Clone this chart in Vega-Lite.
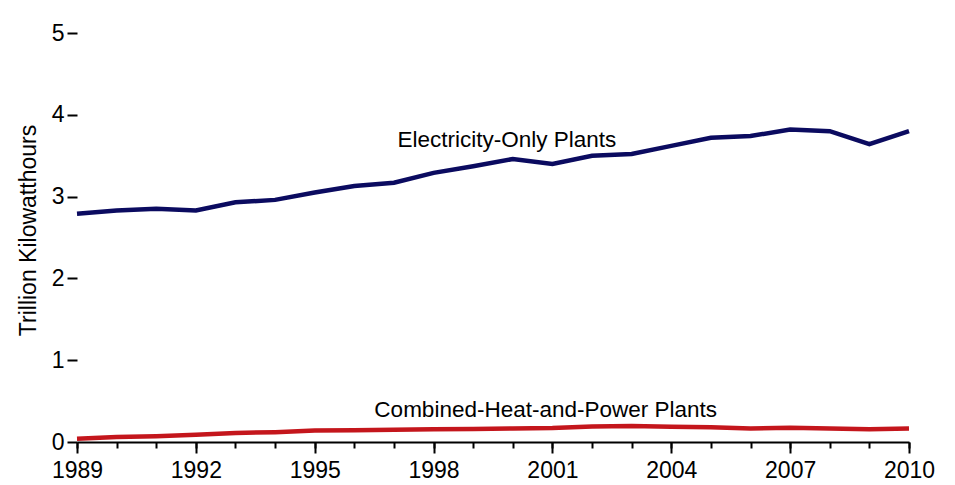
{
  "$schema": "https://vega.github.io/schema/vega-lite/v6.json",
  "autosize": "none",
  "width": 832,
  "height": 409,
  "padding": {"left": 77, "top": 33, "right": 46, "bottom": 43},
  "background": "white",
  "config": {"view": {"stroke": null}, "font": "Liberation Sans"},
  "datasets": {
    "gen": [
      {"year": 1989, "series": "Electricity-Only Plants", "value": 2.79},
      {"year": 1990, "series": "Electricity-Only Plants", "value": 2.83},
      {"year": 1991, "series": "Electricity-Only Plants", "value": 2.85},
      {"year": 1992, "series": "Electricity-Only Plants", "value": 2.83},
      {"year": 1993, "series": "Electricity-Only Plants", "value": 2.93},
      {"year": 1994, "series": "Electricity-Only Plants", "value": 2.96},
      {"year": 1995, "series": "Electricity-Only Plants", "value": 3.05},
      {"year": 1996, "series": "Electricity-Only Plants", "value": 3.13},
      {"year": 1997, "series": "Electricity-Only Plants", "value": 3.17},
      {"year": 1998, "series": "Electricity-Only Plants", "value": 3.29},
      {"year": 1999, "series": "Electricity-Only Plants", "value": 3.37},
      {"year": 2000, "series": "Electricity-Only Plants", "value": 3.46},
      {"year": 2001, "series": "Electricity-Only Plants", "value": 3.40},
      {"year": 2002, "series": "Electricity-Only Plants", "value": 3.50},
      {"year": 2003, "series": "Electricity-Only Plants", "value": 3.52},
      {"year": 2004, "series": "Electricity-Only Plants", "value": 3.62},
      {"year": 2005, "series": "Electricity-Only Plants", "value": 3.72},
      {"year": 2006, "series": "Electricity-Only Plants", "value": 3.74},
      {"year": 2007, "series": "Electricity-Only Plants", "value": 3.82},
      {"year": 2008, "series": "Electricity-Only Plants", "value": 3.80},
      {"year": 2009, "series": "Electricity-Only Plants", "value": 3.64},
      {"year": 2010, "series": "Electricity-Only Plants", "value": 3.80},
      {"year": 1989, "series": "Combined-Heat-and-Power Plants", "value": 0.04},
      {"year": 1990, "series": "Combined-Heat-and-Power Plants", "value": 0.06},
      {"year": 1991, "series": "Combined-Heat-and-Power Plants", "value": 0.07},
      {"year": 1992, "series": "Combined-Heat-and-Power Plants", "value": 0.09},
      {"year": 1993, "series": "Combined-Heat-and-Power Plants", "value": 0.11},
      {"year": 1994, "series": "Combined-Heat-and-Power Plants", "value": 0.12},
      {"year": 1995, "series": "Combined-Heat-and-Power Plants", "value": 0.14},
      {"year": 1996, "series": "Combined-Heat-and-Power Plants", "value": 0.145},
      {"year": 1997, "series": "Combined-Heat-and-Power Plants", "value": 0.15},
      {"year": 1998, "series": "Combined-Heat-and-Power Plants", "value": 0.155},
      {"year": 1999, "series": "Combined-Heat-and-Power Plants", "value": 0.16},
      {"year": 2000, "series": "Combined-Heat-and-Power Plants", "value": 0.165},
      {"year": 2001, "series": "Combined-Heat-and-Power Plants", "value": 0.17},
      {"year": 2002, "series": "Combined-Heat-and-Power Plants", "value": 0.19},
      {"year": 2003, "series": "Combined-Heat-and-Power Plants", "value": 0.195},
      {"year": 2004, "series": "Combined-Heat-and-Power Plants", "value": 0.185},
      {"year": 2005, "series": "Combined-Heat-and-Power Plants", "value": 0.18},
      {"year": 2006, "series": "Combined-Heat-and-Power Plants", "value": 0.165},
      {"year": 2007, "series": "Combined-Heat-and-Power Plants", "value": 0.175},
      {"year": 2008, "series": "Combined-Heat-and-Power Plants", "value": 0.165},
      {"year": 2009, "series": "Combined-Heat-and-Power Plants", "value": 0.155},
      {"year": 2010, "series": "Combined-Heat-and-Power Plants", "value": 0.165}
    ],
    "labels": [
      {"year": 1999.85, "value": 3.61, "label": "Electricity-Only Plants"},
      {"year": 2000.83, "value": 0.31, "label": "Combined-Heat-and-Power Plants"}
    ]
  },
  "resolve": {"axis": {"x": "independent"}},
  "layer": [
    {
      "data": {"name": "gen"},
      "mark": {"type": "line", "strokeWidth": 4.5, "strokeJoin": "miter", "clip": false, "opacity": 0},
      "encoding": {
        "x": {
          "field": "year", "type": "quantitative",
          "scale": {"domain": [1989, 2010], "nice": false, "zero": false},
          "axis": {
            "orient": "bottom",
            "title": null,
            "values": [1989,1990,1991,1992,1993,1994,1995,1996,1997,1998,1999,2000,2001,2002,2003,2004,2005,2006,2007,2008,2009,2010],
            "tickCount": 40,
            "labels": false,
            "grid": false,
            "domain": false,
            "ticks": true, "tickColor": "black", "tickOpacity": 1, "tickWidth": 2, "tickSize": 6
          }
        },
        "y": {
          "field": "value", "type": "quantitative",
          "scale": {"domain": [0, 5], "nice": false},
          "axis": {
            "title": "Trillion Kilowatthours",
            "values": [0,1,2,3,4,5],
            "format": "d",
            "grid": false, "domain": false,
            "ticks": true, "tickColor": "black", "tickWidth": 2, "tickSize": 10,
            "labelFontSize": 23, "labelColor": "black", "labelPadding": 3,
            "labelFont": "Liberation Sans",
            "titleFont": "Liberation Sans", "titleFontSize": 23, "titleFontWeight": "normal",
            "titleColor": "black", "titleAngle": -90, "titleAlign": "center", "titleBaseline": "middle",
            "titleX": -49, "titleY": 197
          }
        },
        "detail": {"field": "series"}
      }
    },
    {
      "data": {"name": "gen"},
      "mark": {"type": "line", "strokeWidth": 4.5, "strokeJoin": "miter", "clip": false},
      "encoding": {
        "x": {
          "field": "year", "type": "quantitative",
          "axis": {
            "orient": "bottom",
            "title": null,
            "values": [1989,1992,1995,1998,2001,2004,2007,2010],
            "tickCount": 40,
            "format": "d",
            "grid": false,
            "domain": true, "domainColor": "black", "domainWidth": 2,
            "ticks": true, "tickColor": "black", "tickOpacity": 1, "tickWidth": 2, "tickSize": 11,
            "labelFontSize": 23, "labelColor": "black", "labelPadding": 6,
            "labelFont": "Liberation Sans", "labelFlush": false, "labelOverlap": false, "labelBound": false
          }
        },
        "y": {"field": "value", "type": "quantitative"},
        "color": {
          "field": "series", "type": "nominal",
          "scale": {"domain": ["Electricity-Only Plants", "Combined-Heat-and-Power Plants"], "range": ["#0b0b60", "#c4161c"]},
          "legend": null
        }
      }
    },
    {
      "data": {"name": "labels"},
      "mark": {"type": "text", "fontSize": 22.5, "font": "Liberation Sans", "color": "black", "align": "center", "baseline": "alphabetic"},
      "encoding": {
        "x": {"field": "year", "type": "quantitative", "axis": null},
        "y": {"field": "value", "type": "quantitative"},
        "text": {"field": "label"}
      }
    }
  ]
}
